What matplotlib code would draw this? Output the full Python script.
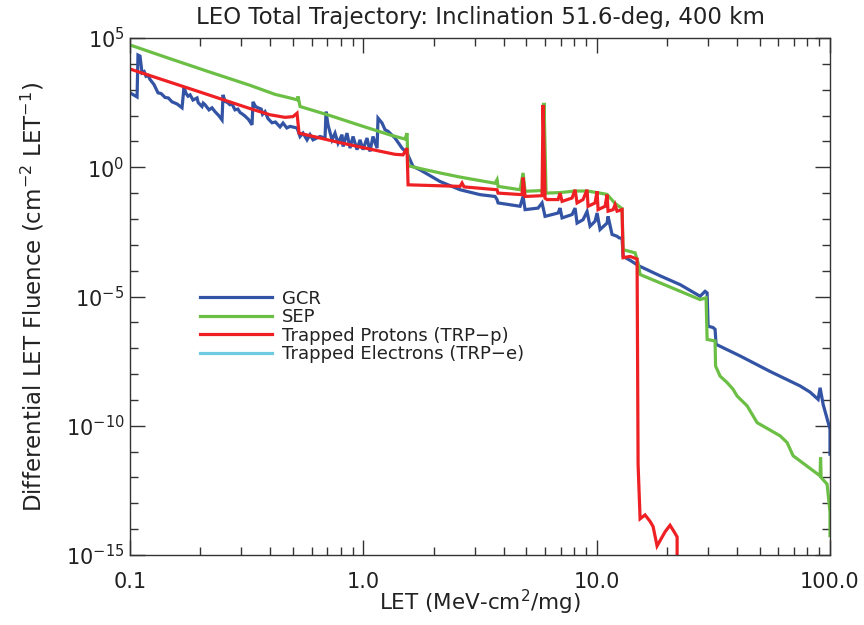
import numpy as np
import matplotlib
matplotlib.use("Agg")
import matplotlib.pyplot as plt
from matplotlib.ticker import FixedLocator, NullFormatter

# ---------------- data (LET in MeV-cm2/mg, log10 of differential fluence) ----------------
gcr_let = [0.100, 0.1072, 0.1082, 0.1104, 0.1126, 0.1150, 0.1171, 0.1195, 0.1218, 0.1267,
           0.1318, 0.1360, 0.1413, 0.1460, 0.1514, 0.1590, 0.1671, 0.1704, 0.1740, 0.1773,
           0.1810, 0.1862, 0.1938, 0.1960, 0.2035, 0.2060, 0.2097, 0.2180, 0.2246, 0.2314,
           0.2400, 0.2480, 0.2504, 0.2554, 0.2620, 0.2680, 0.2737, 0.2818, 0.2900, 0.2961,
           0.3040, 0.3111, 0.3220, 0.3334, 0.3367, 0.3450, 0.3537, 0.3650, 0.3700, 0.3790,
           0.3904, 0.4061, 0.4200, 0.4395, 0.4527, 0.4700, 0.4851, 0.5198, 0.5355, 0.5515,
           0.5737, 0.5909, 0.6087, 0.6522, 0.6852, 0.6920, 0.7058, 0.7342, 0.7563, 0.7791,
           0.8104, 0.8185, 0.8511, 0.8770, 0.9033, 0.9397, 0.9679, 0.9970, 1.037, 1.068,
           1.100, 1.145, 1.156, 1.203, 1.239, 1.276, 1.367, 1.465, 1.539, 1.633,
           1.750, 2.131, 2.597, 3.164, 3.669, 3.742, 3.779, 4.697, 4.838, 4.934,
           5.608, 5.834, 6.009, 6.832, 6.969, 7.108, 7.845, 8.081, 8.242, 8.743,
           9.095, 9.369, 9.843, 10.04, 10.34, 11.08, 11.19, 11.64, 12.23, 12.47,
           12.85, 12.98, 13.91, 15.05, 18.70, 22.78, 27.75, 29.15, 29.74, 30.04,
           31.54, 32.17, 32.49, 41.18, 55.38, 74.45, 82.17, 88.92, 90.70, 93.43,
           100.0, 100.0]
gcr_logf = [2.88, 2.72, 4.34, 4.30, 3.65, 3.70, 3.52, 3.55, 3.40, 3.20,
            2.88, 2.85, 2.70, 2.68, 2.53, 2.45, 2.30, 3.10, 2.85, 2.75,
            2.80, 2.60, 2.68, 2.50, 2.35, 2.48, 2.42, 2.22, 2.30, 2.15,
            2.00, 1.83, 2.80, 2.55, 2.50, 2.42, 2.45, 2.22, 2.25, 2.12,
            2.05, 1.98, 1.85, 1.64, 2.53, 2.35, 2.30, 2.25, 2.05, 2.15,
            1.88, 1.72, 1.75, 1.56, 1.71, 1.52, 1.58, 1.52, 1.19, 1.32,
            1.06, 1.26, 1.06, 1.19, 1.13, 2.15, 1.64, 1.06, 1.32, 0.93,
            1.26, 0.80, 1.32, 0.74, 1.19, 0.68, 1.06, 0.68, 1.13, 0.61,
            1.19, 0.74, 1.90, 1.71, 1.45, 1.39, 1.13, 0.74, 0.55, 0.03,
            -0.10, -0.55, -0.87, -1.06, -1.13, -1.25, -1.38, -1.51, -1.13, -1.64,
            -1.58, -1.38, -1.90, -1.77, -1.58, -1.96, -1.83, -1.58, -2.16, -2.03,
            -1.71, -2.28, -2.09, -1.77, -2.41, -2.16, -1.90, -2.60, -2.67, -2.73,
            -2.75, -3.45, -3.60, -3.80, -4.20, -4.54, -4.99, -4.80, -4.86, -6.15,
            -6.20, -6.27, -6.85, -7.30, -7.90, -8.46, -8.70, -8.98, -8.53, -9.17,
            -10.13, -11.10]

sep_let = [0.100, 0.1484, 0.2201, 0.3268, 0.4183, 0.4851, 0.5198, 0.5250, 0.5355, 0.7198,
           0.9679, 1.301, 1.509, 1.539, 1.555, 1.750, 2.131, 2.597, 3.669, 3.742,
           3.779, 4.697, 4.838, 4.934, 5.891, 5.95, 6.068, 6.969, 8.081, 9.095,
           10.04, 11.08, 11.99, 12.85, 12.98, 14.61, 15.05, 15.35, 27.75, 29.44,
           29.74, 32.17, 32.33, 33.80, 36.23, 38.43, 39.98, 44.13, 46.82, 48.71,
           61.11, 65.49, 69.47, 90.70, 91.1, 91.6, 97.18, 100.0, 100.0]
sep_logf = [4.73, 4.20, 3.68, 3.17, 2.82, 2.68, 2.61, 2.74, 2.35, 2.00,
            1.62, 1.25, 1.09, 1.32, 0.06, -0.05, -0.22, -0.38, -0.62, -0.48,
            -0.74, -0.87, -0.22, -0.93, -0.90, 2.49, -1.00, -0.98, -0.92, -0.92,
            -0.98, -1.05, -1.40, -1.60, -3.19, -3.31, -3.70, -4.15, -5.12, -5.05,
            -6.66, -6.72, -7.69, -8.08, -8.33, -8.59, -8.85, -9.23, -9.62, -9.88,
            -10.39, -10.65, -11.16, -11.94, -11.23, -12.00, -12.26, -13.35, -14.25]

trpp_let = [0.100, 0.1995, 0.3268, 0.3982, 0.4619, 0.4997, 0.5198, 0.5302, 0.7950, 1.179,
            1.367, 1.480, 1.539, 1.555, 2.597, 2.649, 2.702, 3.742, 3.779, 4.790,
            4.838, 4.934, 5.834, 5.891, 6.009, 6.129, 6.832, 6.969, 7.108, 7.845,
            8.081, 8.242, 8.743, 9.095, 9.186, 9.843, 10.04, 10.14, 10.87, 11.08,
            11.19, 11.76, 11.99, 12.23, 12.85, 12.98, 13.91, 14.90, 15.05, 15.35,
            16.12, 16.94, 17.45, 18.15, 19.65, 20.63, 21.47, 22.12, 22.12]
trpp_logf = [3.80, 2.91, 2.27, 2.03, 1.93, 1.96, 2.09, 1.32, 0.95, 0.62,
             0.50, 0.48, 0.74, -0.68, -0.74, -0.61, -0.76, -0.87, -1.00, -1.06,
             -0.40, -1.13, -1.10, 2.41, -1.20, -1.25, -1.25, -1.00, -1.32, -1.19,
             -0.87, -1.38, -1.25, -0.87, -1.51, -1.38, -0.93, -1.64, -1.51, -1.06,
             -1.70, -1.64, -1.45, -1.70, -1.64, -3.50, -3.45, -3.55, -11.50, -13.60,
             -13.45, -13.70, -13.90, -14.65, -14.10, -13.85, -14.10, -14.30, -16.00]

# trapped electrons: no flux within the plotted range
trpe_let = []
trpe_logf = []

series_labels = ["GCR", "SEP", "Trapped Protons (TRP\u2212p)", "Trapped Electrons (TRP\u2212e)"]
series_colors = ["#3353a4", "#6cbf45", "#ee2024", "#6ecbe0"]

x_ticks = [0.1, 1.0, 10.0, 100.0]
x_tick_labels = ["0.1", "1.0", "10.0", "100.0"]
y_tick_exps = [5, 0, -5, -10, -15]

# ---------------- figure ----------------
plt.rcParams['font.family'] = ['DejaVu Sans']
fig = plt.figure(figsize=(8.64, 6.25), dpi=100)
ax = fig.add_axes([130 / 864, 70 / 625, 700 / 864, 517 / 625])

lw = 2.3
data = [(gcr_let, gcr_logf), (sep_let, sep_logf), (trpp_let, trpp_logf), (trpe_let, trpe_logf)]
for (xs, ls), lab, col in zip(data, series_labels, series_colors):
    ax.plot(xs, 10.0 ** np.asarray(ls, dtype=float), color=col, lw=lw, label=lab,
            solid_joinstyle='miter')

ax.set_xscale('log')
ax.set_yscale('log')
ax.set_xlim(0.1, 100.0)
ax.set_ylim(1e-15, 1e5)

ax.xaxis.set_major_locator(FixedLocator(x_ticks))
ax.set_xticklabels(x_tick_labels)
minor_x = [m * 10.0 ** d for d in (-1, 0, 1) for m in range(2, 10)]
ax.xaxis.set_minor_locator(FixedLocator(minor_x))
ax.xaxis.set_minor_formatter(NullFormatter())

ax.yaxis.set_major_locator(FixedLocator([10.0 ** e for e in y_tick_exps]))
ax.set_yticklabels([r"$10^{%d}$" % e for e in y_tick_exps])
ax.yaxis.set_minor_locator(FixedLocator([10.0 ** e for e in range(-15, 6)]))
ax.yaxis.set_minor_formatter(NullFormatter())

ax.tick_params(which='both', direction='in', top=True, right=True, colors='#333333',
               labelcolor='#222222', width=1.0)
ax.tick_params(which='major', length=11, labelsize=15)
ax.tick_params(axis='x', which='major', pad=12)
ax.tick_params(axis='y', which='major', pad=4)
ax.tick_params(which='minor', length=5.5)
for sp in ax.spines.values():
    sp.set_color('#333333')
    sp.set_linewidth(1.0)

ax.set_title("LEO Total Trajectory: Inclination 51.6-deg, 400 km", fontsize=16.5,
             color='#222222', pad=10)
ax.set_xlabel("LET (MeV-cm$^{2}$/mg)", fontsize=15.5, color='#222222', labelpad=-3)
ax.set_ylabel("Differential LET Fluence (cm$^{-2}$ LET$^{-1}$)", fontsize=16.5,
              color='#222222', labelpad=14)

leg = ax.legend(loc='upper left', bbox_to_anchor=(0.1, 0.513), frameon=False,
                fontsize=13, handlelength=4.0, handletextpad=0.55, labelspacing=0.02,
                borderpad=0, borderaxespad=0)
for t in leg.get_texts():
    t.set_color('#222222')

fig.savefig("out.png", dpi=100)
